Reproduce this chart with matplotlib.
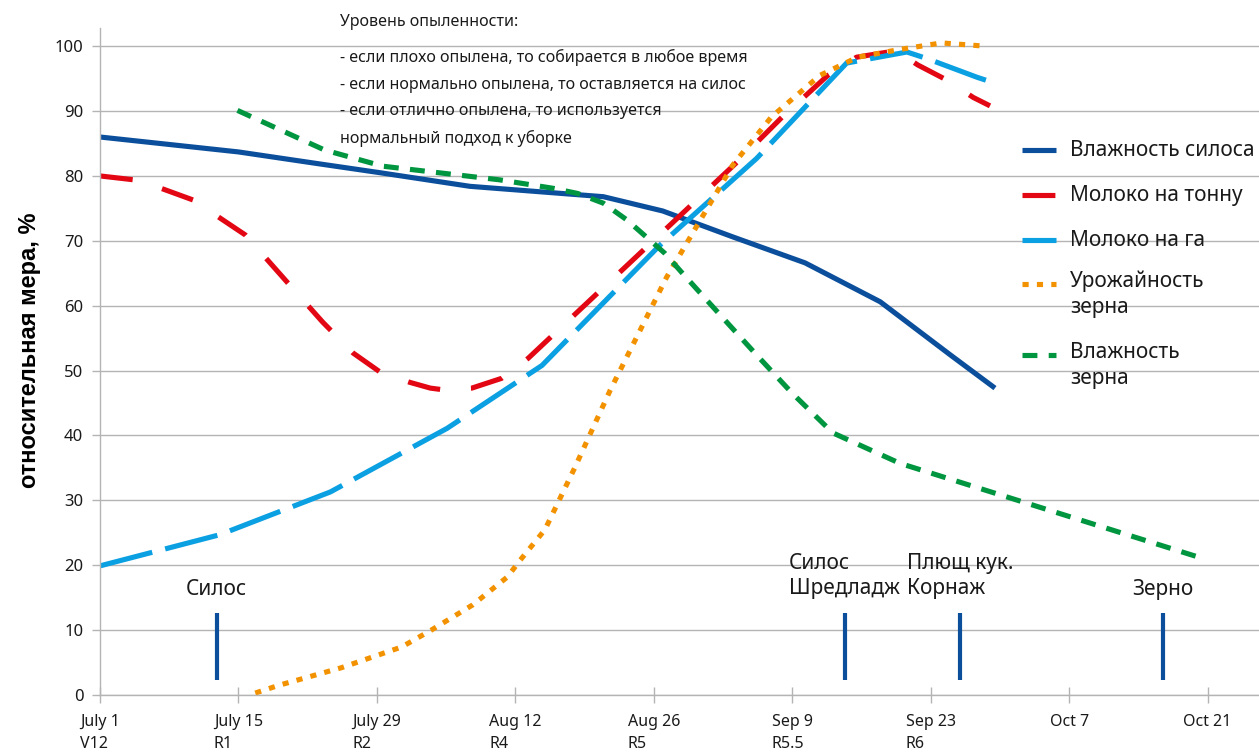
import matplotlib
matplotlib.use("Agg")
import matplotlib.pyplot as plt
from matplotlib.lines import Line2D

plt.rcParams['font.family'] = ['Noto Sans', 'DejaVu Sans']

# days counted from July 1
tick_days = [0, 14, 28, 42, 56, 70, 84, 98, 112]
tick_labels = ['July 1\nV12', 'July 15\nR1', 'July 29\nR2', 'Aug 12\nR4', 'Aug 26\nR5',
               'Sep 9\nR5.5', 'Sep 23\nR6', 'Oct 7', 'Oct 21']

silage_moist_days = [0, 14, 22, 28.3, 37.4, 50.9, 56.9, 64, 71.3, 78.9, 86, 90.5]
silage_moist = [86, 83.7, 81.9, 80.5, 78.4, 76.8, 74.6, 70.6, 66.6, 60.6, 52.4, 47.3]

milk_ton_days = [0, 4, 9.4, 14.7, 19, 22.5, 25.6, 28.3, 31.3, 33.4, 34.4, 37.6, 40.6, 43.3,
                 64.4, 69, 73.6, 76.5, 80.5, 82.7, 85.6, 88.3, 90]
milk_ton = [80, 79.3, 76.3, 70.9, 63.5, 57.5, 52.7, 49.8, 48.2, 47.3, 47.1, 47.3, 48.8, 51.9,
            82.1, 89.1, 95.5, 98.3, 99.3, 97.1, 94.8, 92.1, 90.8]

milk_ha_days = [0, 12.1, 23.3, 35.1, 44.7, 56.6, 66.4, 75.5, 81.6, 83.6, 88.7, 90.5]
milk_ha = [19.9, 24.7, 31.3, 41.1, 50.8, 69.3, 82.7, 97.4, 99.1, 98.1, 95.2, 94.3]

grain_yield_days = [15.7, 18.1, 24.4, 30.5, 33.5, 37.7, 41.2, 42.5, 45, 48, 51.6, 57.3, 64,
                    67.9, 72.8, 76.6, 80.9, 85.1, 89.5]
grain_yield = [0.3, 1.5, 4.2, 7.4, 10, 13.9, 18.2, 20.8, 25.5, 35, 47, 64.4, 81.7,
               89.1, 95.5, 98.3, 99.5, 100.5, 100]

grain_moist_days = [13.9, 22.7, 28.6, 40.4, 45.8, 48.3, 50.9, 53.3, 57.1, 58.9, 62.7, 66.4,
                    70, 74.1, 80.9, 111.4]
grain_moist = [90.1, 84, 81.5, 79.4, 78.1, 77.3, 75.8, 73.2, 68.1, 65, 58.6, 52.4,
               46.5, 40.4, 35.7, 21.1]

stage_days = [11.8, 75.3, 87, 107.5]
stage_labels = ['Силос', 'Силос\nШредладж', 'Плющ кук.\nКорнаж', 'Зерно']
stage_bar = (2.3, 12.6)

note_title = 'Уровень опыленности:'
note_lines = ['- если плохо опылена, то собирается в любое время',
              '- если нормально опылена, то оставляется на силос',
              '- если отлично опылена, то используется',
              'нормальный подход к уборке']

c_silage = '#0b4f9c'
c_red = '#e30613'
c_lblue = '#0aa0e2'
c_orange = '#f39200'
c_green = '#009640'
grid_c = '#b4b4b4'
text_c = '#1a1a1a'

W, H = 1259, 753
fig = plt.figure(figsize=(W / 100, H / 100), dpi=100)
ax = fig.add_axes([100 / W, 1 - 695 / H, 1159 / W, 667 / H])

lw = 3.7
series = [
    (silage_moist_days, silage_moist, c_silage, None, 'Влажность силоса'),
    (milk_ton_days, milk_ton, c_red, (0, (6.4, 6.0)), 'Молоко на тонну'),
    (milk_ha_days, milk_ha, c_lblue, (0, (10.5, 2.6)), 'Молоко на га'),
    (grain_yield_days, grain_yield, c_orange, (0, (1.2, 1.6)), 'Урожайность\nзерна'),
    (grain_moist_days, grain_moist, c_green, (0, (2.9, 2.2)), 'Влажность\nзерна'),
]
for xs, ys, col, dash, lab in series:
    line, = ax.plot(xs, ys, color=col, lw=lw, solid_capstyle='butt', dash_capstyle='butt')
    if dash is not None:
        line.set_linestyle(dash)

# harvest stage markers
ax.vlines(stage_days, stage_bar[0], stage_bar[1], color=c_silage, lw=3)
for d, lab in zip(stage_days, stage_labels):
    if '\n' in lab:
        ax.text(d, 18.3, lab, ha='center', va='center', multialignment='left',
                fontsize=15, color=text_c, linespacing=1.25)
    else:
        ax.text(d, 16.2, lab, ha='center', va='center', fontsize=15, color=text_c)

ax.set_xlim(0, 117.2)
ax.set_ylim(0, 102.8)
ax.set_yticks(range(0, 101, 10))
ax.set_xticks(tick_days)
ax.set_xticklabels(tick_labels, ha='center', multialignment='left', linespacing=1.5)
ax.tick_params(axis='y', direction='out', length=6, width=1, color=grid_c,
               labelsize=12, labelcolor=text_c, pad=6)
ax.tick_params(axis='x', direction='inout', length=11.5, width=1, color=grid_c,
               labelsize=11.5, labelcolor=text_c, pad=8)
ax.grid(axis='y', color=grid_c, lw=1)
ax.set_axisbelow(True)
for s in ['top', 'right']:
    ax.spines[s].set_visible(False)
for s in ['left', 'bottom']:
    ax.spines[s].set_color(grid_c)
    ax.spines[s].set_linewidth(1)

fig.text(30 / W, 1 - 350 / H, 'относительная мера, %', rotation=90, ha='center', va='center',
         fontsize=17, fontweight='bold', color='black',
         family=['Liberation Sans', 'DejaVu Sans'])

# pollination note
fig.text(340 / W, 1 - 22 / H, note_title, fontsize=11.5, va='center', color=text_c)
for yy, line_txt in zip([57, 85, 111, 138], note_lines):
    fig.text(340 / W, 1 - yy / H, line_txt, fontsize=11.5, va='center', color=text_c)

# legend
leg_y = [150, 195, 240, 284, 355]
for (xs, ys, col, dash, lab), yy in zip(series, leg_y):
    yf = 1 - yy / H
    h = Line2D([1022 / W, 1056 / W], [yf, yf], transform=fig.transFigure, color=col, lw=lw,
               solid_capstyle='butt', dash_capstyle='butt')
    if dash is not None:
        h.set_linestyle(dash)
    fig.add_artist(h)
    if '\n' in lab:
        fig.text(1070 / W, 1 - (yy - 13) / H, lab, fontsize=15, va='top', color=text_c,
                 linespacing=1.3)
    else:
        fig.text(1070 / W, yf, lab, fontsize=15, va='center', color=text_c)

fig.savefig('out.png', dpi=100)
